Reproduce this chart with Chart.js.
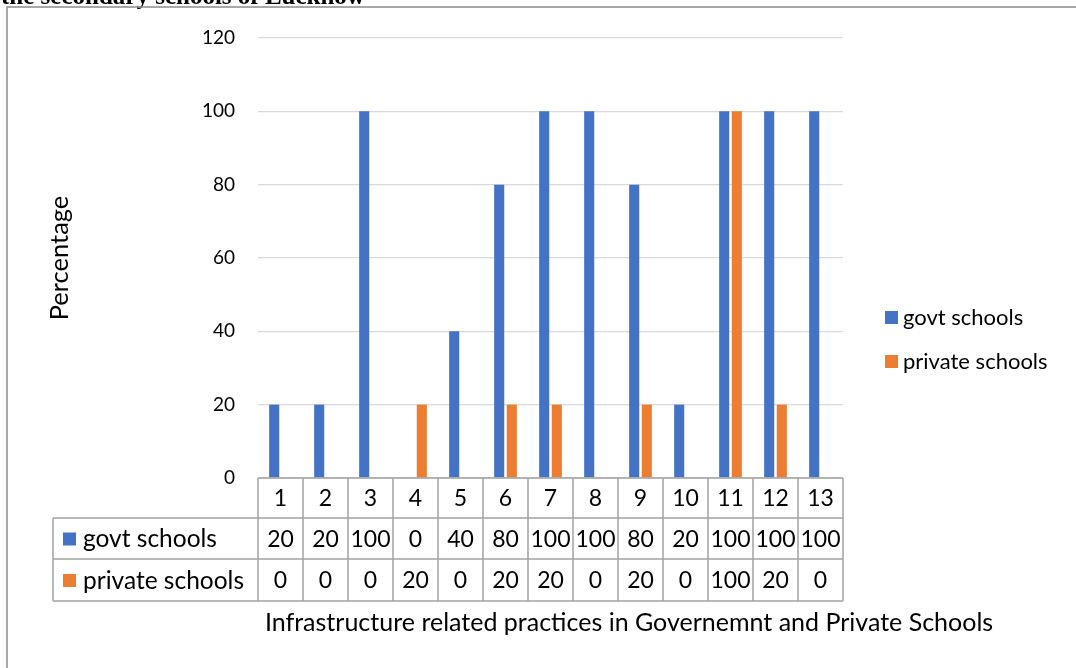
<!DOCTYPE html>
<html>
<head>
<meta charset="utf-8">
<script src="https://cdn.jsdelivr.net/npm/chart.js@4"></script>
<style>
  html, body { margin: 0; padding: 0; background: #fff; }
  canvas { display: block; }
</style>
</head>
<body>
<canvas id="practices" width="1076" height="668"></canvas>
<script>
// values
const categories = ['1', '2', '3', '4', '5', '6', '7', '8', '9', '10', '11', '12', '13'];
const govtSchools = [20, 20, 100, 0, 40, 80, 100, 100, 80, 20, 100, 100, 100];
const privateSchools = [0, 0, 0, 20, 0, 20, 20, 0, 20, 0, 100, 20, 0];
const yMin = 0, yMax = 120, yStep = 20;

const seriesNames = ['govt schools', 'private schools'];
const seriesColors = ['#4472C4', '#ED7D31'];
const xTitle = 'Infrastructure related practices in Governemnt and Private Schools';
const yTitle = 'Percentage';

const FONT = 'Lato, "Noto Sans", sans-serif';
const lineGray = '#a3a3a3';

// frame, data table and legend, all laid out from the chart's own scales
const tablePlugin = {
    id: 'dataTable',
    afterDraw(chart) {
        const ctx = chart.ctx;
        const area = chart.chartArea;
        const xs = chart.scales.x;
        const n = categories.length;
        const colW = (area.right - area.left) / n;
        const rowTop = area.bottom;
        const rowH = [40, 41, 42];
        const r1 = rowTop + rowH[0], r2 = r1 + rowH[1], r3 = r2 + rowH[2];
        const tableLeft = 53;

        ctx.save();

        // cut-off caption and outer frame from the page it was taken from
        ctx.fillStyle = '#000';
        ctx.font = 'bold 25px "Liberation Serif", serif';
        ctx.textBaseline = 'alphabetic';
        ctx.textAlign = 'left';
        ctx.fillText('the secondary schools of Lucknow', 1, 4);
        ctx.strokeStyle = '#8c8c8c';
        ctx.lineWidth = 1.5;
        ctx.beginPath();
        ctx.moveTo(7, 668);
        ctx.lineTo(7, 7);
        ctx.lineTo(1076, 7);
        ctx.stroke();

        // table grid
        ctx.strokeStyle = lineGray;
        ctx.lineWidth = 1.5;
        ctx.beginPath();
        ctx.moveTo(area.left, rowTop);
        ctx.lineTo(area.right, rowTop);
        [r1, r2, r3].forEach(function(y) {
            ctx.moveTo(tableLeft, y);
            ctx.lineTo(area.right, y);
        });
        ctx.moveTo(tableLeft, r1);
        ctx.lineTo(tableLeft, r3);
        for (let i = 0; i <= n; i++) {
            const x = area.left + i * colW;
            ctx.moveTo(x, rowTop);
            ctx.lineTo(x, r3);
        }
        ctx.stroke();

        // cell text
        ctx.fillStyle = '#000';
        ctx.font = '23px ' + FONT;
        ctx.textAlign = 'center';
        ctx.textBaseline = 'middle';
        const rows = [govtSchools, privateSchools];
        for (let i = 0; i < n; i++) {
            const cx = xs.getPixelForTick(i);
            ctx.fillText(categories[i], cx, (rowTop + r1) / 2 + 1);
            ctx.fillText(String(rows[0][i]), cx, (r1 + r2) / 2 + 1);
            ctx.fillText(String(rows[1][i]), cx, (r2 + r3) / 2 + 1);
        }

        // row headers with swatches
        ctx.font = '24.5px ' + FONT;
        ctx.textAlign = 'left';
        [[r1, r2], [r2, r3]].forEach(function(r, k) {
            const cy = (r[0] + r[1]) / 2;
            ctx.fillStyle = seriesColors[k];
            ctx.fillRect(63, cy - 6, 13, 13);
            ctx.fillStyle = '#000';
            ctx.fillText(seriesNames[k], 83, cy + 1);
        });

        // x axis title
        ctx.font = '25px ' + FONT;
        ctx.textAlign = 'center';
        ctx.fillText(xTitle, 629, 623);

        // legend on the right
        ctx.font = '22px ' + FONT;
        ctx.textAlign = 'left';
        [317, 361].forEach(function(cy, k) {
            ctx.fillStyle = seriesColors[k];
            ctx.fillRect(885, cy - 6, 13, 13);
            ctx.fillStyle = '#000';
            ctx.fillText(seriesNames[k], 903, cy + 1);
        });

        ctx.restore();
    }
};

const ctx = document.getElementById('practices').getContext('2d');
const practicesChart = new Chart(ctx, {
    type: 'bar',
    data: {
        labels: categories,
        datasets: [{
            label: seriesNames[0],
            data: govtSchools,
            backgroundColor: seriesColors[0],
            borderWidth: 0
        }, {
            label: seriesNames[1],
            data: privateSchools,
            backgroundColor: seriesColors[1],
            borderWidth: 0
        }]
    },
    options: {
        responsive: false,
        animation: false,
        layout: {
            padding: { left: 40, right: 233, top: 38, bottom: 190 }
        },
        datasets: {
            bar: { categoryPercentage: 0.56, barPercentage: 0.8 }
        },
        plugins: {
            legend: { display: false },
            tooltip: { enabled: false }
        },
        scales: {
            x: {
                display: false
            },
            y: {
                min: yMin,
                max: yMax,
                border: { display: false },
                grid: { color: '#d9d9d9', lineWidth: 1.3, drawTicks: false },
                ticks: {
                    stepSize: yStep,
                    padding: 23,
                    color: '#000',
                    font: { family: FONT, size: 19 }
                },
                title: {
                    display: true,
                    text: yTitle,
                    color: '#000',
                    font: { family: FONT, size: 25.5 }
                },
                afterFit: function(scale) {
                    scale.width = 218;
                }
            }
        }
    },
    plugins: [tablePlugin]
});
</script>
</body>
</html>
